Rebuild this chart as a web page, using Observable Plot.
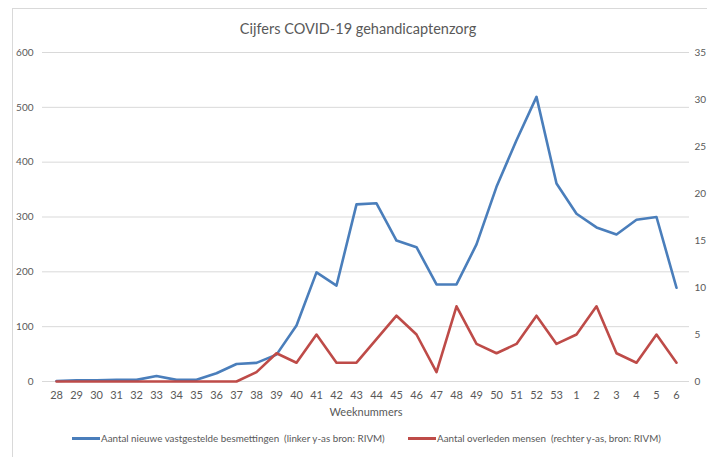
<!DOCTYPE html>
<html>
<head>
<meta charset="utf-8">
<script src="https://cdn.jsdelivr.net/npm/d3@7"></script>
<script src="https://cdn.jsdelivr.net/npm/@observablehq/plot@0.6"></script>
<style>
  html, body { margin: 0; padding: 0; background: #fff; }
  body { width: 707px; height: 457px; overflow: hidden; font-family: Lato, "Open Sans", sans-serif; color: #595959; }
  #frame { position: absolute; left: 12px; top: 8px; width: 720px; height: 460px; border: 1px solid #d9d9d9; box-sizing: border-box; }
  #title { position: absolute; left: 0; top: 20px; width: 716px; text-align: center; font-size: 14.5px; color: #595959; }
  #chart { position: absolute; left: 0; top: 40px; }
  #legend { position: absolute; left: 0; top: 432px; width: 707px; font-size: 9.8px; color: #595959; }
  .item { position: absolute; top: 0; display: flex; align-items: center; white-space: nowrap; }
  .swatch { display: inline-block; width: 28px; height: 3px; margin-right: 1px; }
</style>
</head>
<body>
<div id="frame"></div>
<div id="title">Cijfers COVID-19 gehandicaptenzorg</div>
<div id="chart"></div>
<div id="legend">
  <div class="item" style="left:72px"><span class="swatch" style="background:#4a7ebb"></span><span>Aantal nieuwe vastgestelde besmettingen&nbsp; (linker y-as bron: RIVM)</span></div>
  <div class="item" style="left:408px"><span class="swatch" style="background:#be4b48"></span><span>Aantal overleden mensen&nbsp; (rechter y-as, bron: RIVM)</span></div>
</div>
<script>
const weeks = ["28","29","30","31","32","33","34","35","36","37","38","39","40","41","42","43","44","45","46","47","48","49","50","51","52","53","1","2","3","4","5","6"];
const besmettingen = [1,2,2,3,3,10,3,3,15,32,34,49,102,199,175,323,325,257,245,177,177,250,355,440,519,361,306,281,268,295,300,171];
const overleden = [0,0,0,0,0,0,0,0,0,0,1,3,2,5,2,2,4.5,7,5,1,8,4,3,4,7,4,5,8,3,2,5,2];
const leftTicks = [0,100,200,300,400,500,600];
const rightTicks = [0,5,10,15,20,25,30,35];

const leftMax = 600, rightMax = 35;
const toLeft = v => v * leftMax / rightMax;

const blueData = weeks.map((w, i) => ({week: w, value: besmettingen[i]}));
const redData = weeks.map((w, i) => ({week: w, value: toLeft(overleden[i])}));

const plot = Plot.plot({
  width: 707,
  height: 380,
  marginTop: 12,
  marginBottom: 39,
  marginLeft: 42,
  marginRight: 18,
  style: {fontFamily: "Lato, 'Open Sans', sans-serif", color: "#595959", background: "transparent", overflow: "visible"},
  x: {type: "point", domain: weeks, padding: 0.5},
  y: {domain: [0, leftMax]},
  marks: [
    Plot.gridY(leftTicks, {stroke: "#d9d9d9", strokeOpacity: 1, strokeWidth: 1}),
    Plot.axisY(leftTicks, {anchor: "left", tickSize: 0, tickPadding: 9, fontSize: 10, label: null}),
    Plot.axisY(rightTicks.map(toLeft), {anchor: "right", tickSize: 0, tickPadding: 5, fontSize: 10, label: null,
      tickFormat: d => String(Math.round(d * rightMax / leftMax)), textAnchor: "start"}),
    Plot.axisX({anchor: "bottom", tickSize: 0, tickPadding: 10, fontSize: 11, label: "Weeknummers", labelAnchor: "center", labelOffset: 34, labelArrow: "none"}),
    Plot.line(blueData, {x: "week", y: "value", stroke: "#4a7ebb", strokeWidth: 2.6, strokeLinejoin: "round"}),
    Plot.line(redData, {x: "week", y: "value", stroke: "#be4b48", strokeWidth: 2.6, strokeLinejoin: "round"})
  ]
});
document.getElementById("chart").appendChild(plot);
</script>
</body>
</html>
